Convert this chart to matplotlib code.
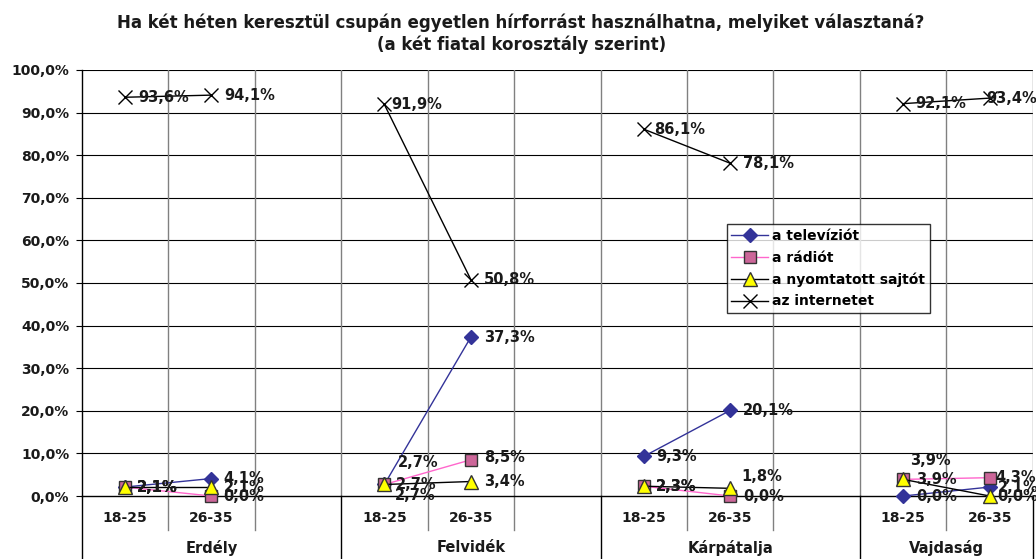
import matplotlib.pyplot as plt
from matplotlib.transforms import blended_transform_factory

plt.rcParams['font.family'] = ['DejaVu Sans']
plt.rcParams['font.weight'] = 'bold'

# values, order: Erdély, Felvidék, Kárpátalja, Vajdaság (18-25, 26-35 each)
regions = ["Erdély", "Felvidék", "Kárpátalja", "Vajdaság"]
age_groups = ["18-25", "26-35"]
tv = [2.1, 4.1, 2.7, 37.3, 9.3, 20.1, 0.0, 2.1]
radio = [2.1, 0.0, 2.7, 8.5, 2.3, 0.0, 3.9, 4.3]
press = [2.1, 2.1, 2.7, 3.4, 2.3, 1.8, 3.9, 0.0]
internet = [93.6, 94.1, 91.9, 50.8, 86.1, 78.1, 92.1, 93.4]
series_names = ["a televíziót", "a rádiót", "a nyomtatott sajtót", "az internetet"]

# label offsets (pixels) so overlapping labels sit roughly where they are in the original
offsets = [
    [(12, 0), (12, 0), (13, 22), (13, 0), (12, 0), (13, 0), (13, 0), (8, 0)],
    [(12, 0), (12, 0), (11, 0), (13, 2), (12, 0), (13, 0), (13, 0), (6, 0)],
    [(12, 0), (12, 0), (10, -11), (13, 0), (12, 0), (11, 12), (7, 19), (8, 0)],
    [(13, 0), (13, 0), (7, 0), (13, 0), (10, 0), (13, 0), (12, 0), (-3, 0)],
]

styles = [
    dict(color='#333399', marker='D', markersize=7, markerfacecolor='#333399',
         markeredgecolor='#333399'),
    dict(color='#FF66CC', marker='s', markersize=8.5, markerfacecolor='#CC6699',
         markeredgecolor='#333333'),
    dict(color='black', marker='^', markersize=9.5, markerfacecolor='#FFFF00',
         markeredgecolor='#333333'),
    dict(color='black', marker='x', markersize=9.5, markeredgewidth=1.0),
]


def fmt(v):
    return ("%.1f%%" % v).replace('.', ',')


fig = plt.figure(figsize=(10.36, 5.59), dpi=100)
ax = fig.add_axes([0.0789, 0.1127, 0.9181, 0.7621])

# x slot of every point: two age groups per region, one empty slot between regions
xpos = []
for g in range(len(regions)):
    xpos += [3 * g, 3 * g + 1]

all_series = [tv, radio, press, internet]
handles = []
for s, vals in enumerate(all_series):
    for g in range(len(regions)):
        xs = xpos[2 * g:2 * g + 2]
        ys = vals[2 * g:2 * g + 2]
        line, = ax.plot(xs, ys, lw=1, zorder=3, clip_on=False, **styles[s])
    handles.append(line)
    for i, v in enumerate(vals):
        ax.annotate(fmt(v), (xpos[i], v), xytext=offsets[s][i],
                    textcoords='offset pixels', ha='left', va='center',
                    fontsize=10.5, fontweight='bold', color='#1a1a1a', zorder=4)

ax.set_xlim(-0.5, 10.5)
ax.set_ylim(0, 100)
ax.set_yticks(range(0, 101, 10))
ax.set_yticklabels([fmt(t) for t in range(0, 101, 10)], fontsize=10,
                   fontweight='bold', color='#1a1a1a')
ax.set_xticks([])
ax.tick_params(axis='y', length=4, width=0.8, pad=5)

for t in range(10, 101, 10):
    ax.axhline(t, color='black', lw=0.8, zorder=1)
for b in range(11):
    ax.axvline(b + 0.5, color='#808080', lw=1, zorder=1)

for side in ['top', 'right']:
    ax.spines[side].set_visible(False)
ax.spines['left'].set_linewidth(1)
ax.spines['bottom'].set_linewidth(1)

# category axis: age groups and region names underneath
trans = blended_transform_factory(ax.transData, ax.transAxes)
bounds = [b - 0.5 for b in range(12)]
for b in bounds:
    low = -0.148 if b in (-0.5, 2.5, 5.5, 8.5, 10.5) else -0.08
    color = 'black' if low < -0.1 else '#808080'
    ax.plot([b, b], [0, low], transform=trans, color=color, lw=1, clip_on=False)
for i, x in enumerate(xpos):
    ax.text(x, -0.052, age_groups[i % 2], transform=trans, ha='center',
            va='center', fontsize=10, fontweight='bold', color='#1a1a1a')
for g, name in enumerate(regions):
    center = (3 * g - 0.5 + min(3 * g + 2.5, 10.5)) / 2
    ax.text(center, -0.122, name, transform=trans, ha='center', va='center',
            fontsize=10.5, fontweight='bold', color='#1a1a1a')

leg = ax.legend(handles, series_names, loc='upper left',
                bbox_to_anchor=(0.678, 0.638), fontsize=10, frameon=True,
                fancybox=False, borderpad=0.35, labelspacing=0.55,
                handlelength=2.6, handletextpad=0.3, borderaxespad=0)
leg.get_frame().set_edgecolor('black')
leg.get_frame().set_linewidth(1)
for t in leg.get_texts():
    t.set_fontweight('bold')

fig.text(0.503, 0.975, "Ha két héten keresztül csupán egyetlen hírforrást használhatna, melyiket választaná?\n(a két fiatal korosztály szerint)",
         ha='center', va='top', fontsize=12, fontweight='bold', color='#1a1a1a',
         linespacing=1.2)

fig.savefig('out.png', dpi=100)
